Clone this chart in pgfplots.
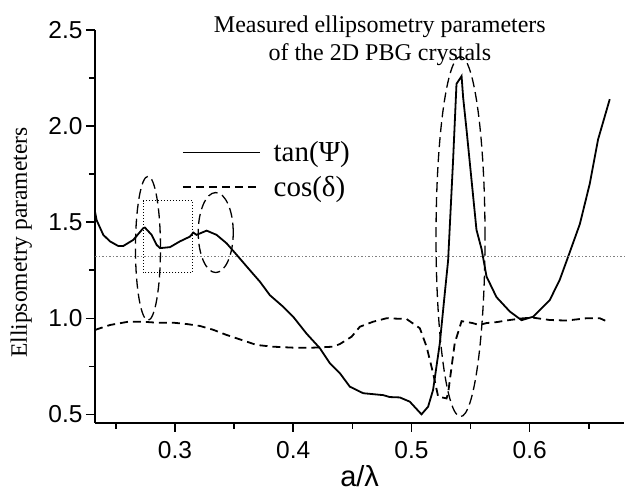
\documentclass[border=0pt]{standalone}
\usepackage{fontspec}
\setmainfont{Liberation Serif}
\newfontfamily\arial{Liberation Sans}
\usepackage{pgfplots}
\pgfplotsset{compat=1.18}
\usepackage{pgfplotstable}

\pgfplotstableread{
x y
0.2324 1.555
0.2338 1.51
0.2394 1.434
0.2451 1.40
0.2521 1.376
0.2563 1.376
0.2648 1.408
0.2732 1.469
0.2746 1.472
0.2803 1.434
0.2845 1.382
0.2873 1.365
0.2958 1.370
0.3042 1.400
0.3127 1.425
0.3155 1.446
0.3183 1.434
0.3268 1.456
0.3352 1.434
0.3437 1.390
0.3522 1.330
0.3606 1.270
0.3634 1.250
0.3719 1.190
0.3803 1.120
0.3915 1.060
0.4000 1.008
0.4113 0.920
0.4226 0.844
0.4310 0.766
0.4395 0.714
0.4479 0.644
0.4592 0.610
0.4761 0.600
0.4817 0.590
0.4902 0.588
0.4986 0.566
0.5085 0.500
0.5141 0.540
0.5183 0.627
0.5240 0.870
0.5282 1.130
0.5310 1.300
0.5352 1.820
0.5381 2.220
0.5424 2.260
0.5437 2.150
0.5466 1.980
0.5550 1.460
0.5593 1.360
0.5635 1.217
0.5719 1.110
0.5832 1.035
0.5931 0.990
0.6029 1.008
0.6170 1.095
0.6254 1.200
0.6325 1.320
0.6424 1.490
0.6508 1.700
0.6578 1.930
0.6677 2.140
}\tanpsi

\pgfplotstableread{
x y
0.2324 0.939
0.2366 0.948
0.2451 0.965
0.2606 0.982
0.2732 0.982
0.2845 0.977
0.2986 0.977
0.3099 0.970
0.3211 0.960
0.3324 0.940
0.3437 0.913
0.3550 0.890
0.3690 0.861
0.3831 0.852
0.4000 0.847
0.4169 0.847
0.4338 0.852
0.4395 0.866
0.4494 0.904
0.4564 0.956
0.4676 0.982
0.4790 1.000
0.4959 0.996
0.5071 0.948
0.5128 0.852
0.5183 0.714
0.5226 0.592
0.5297 0.583
0.5310 0.610
0.5366 0.870
0.5424 0.985
0.5517 0.975
0.5572 0.965
0.5635 0.975
0.5720 0.980
0.5832 0.991
0.5945 1.000
0.6029 1.003
0.6170 0.991
0.6311 0.988
0.6480 1.000
0.6593 1.000
0.6677 0.977
}\cosdelta

\begin{document}
\begin{tikzpicture}
\begin{axis}[
  at={(0,0)}, anchor=south west,
  scale only axis, width=529.3pt, height=393pt,
  xmin=0.2324, xmax=0.68, ymin=0.455, ymax=2.5,
  clip=false,
  axis x line*=bottom, axis y line*=left,
  axis line style={-, line width=1.8pt},
  every outer x axis line/.append style={-},
  every outer y axis line/.append style={-},
  xtick={0.3,0.4,0.5,0.6}, minor xtick={0.25,0.35,0.45,0.55,0.65},
  ytick={0.5,1.0,1.5,2.0,2.5}, minor ytick={0.75,1.25,1.75,2.25},
  xticklabels={0.3,0.4,0.5,0.6}, yticklabels={0.5,1.0,1.5,2.0,2.5},
  tick align=outside,
  major tick length=9pt, minor tick length=6pt,
  every tick/.style={black, line width=1.5pt},
  tick label style={font=\arial\fontsize{24.5}{24.5}\selectfont},
  xticklabel style={yshift=-6pt},
  /pgf/number format/assume math mode=true,
  xlabel={\arial a/λ},
  every axis x label/.style={at={(axis description cs:0.5,0)}, anchor=base, yshift=-63.7pt, font=\fontsize{29}{29}\selectfont},
  ylabel={Ellipsometry parameters},
  every axis y label/.style={at={(axis description cs:-0.1285,0.459)}, rotate=90, anchor=base, font=\fontsize{23.5}{23.5}\selectfont},
  legend style={draw=none, fill=none, at={(axis cs:0.3057,1.772)}, anchor=west,
    font=\fontsize{29}{29}\selectfont, inner sep=0pt, row sep=11pt, nodes={inner sep=1pt}},
  legend cell align=left,
  legend image code/.code={\draw[#1] (0pt,0pt) -- (77pt,0pt); \path (89pt,0pt);},
]
\addplot[black, line width=1.8pt] table[x=x,y=y] {\tanpsi};
\addlegendentry{tan(Ψ)}
\addplot[black, line width=1.8pt, dash pattern=on 8pt off 5pt] table[x=x,y=y] {\cosdelta};
\addlegendentry{cos(δ)}
\addplot[gray, line width=1pt, dash pattern=on 2pt off 2pt on 1pt off 2pt, forget plot] coordinates {(0.2324,1.32) (0.68,1.32)};
\draw[black, line width=1.3pt, dash pattern=on 10pt off 5pt] (axis cs:0.2772,1.364) ellipse [x radius=12.5pt, y radius=72pt];
\draw[black, line width=1.3pt, dash pattern=on 10pt off 5pt] (axis cs:0.3345,1.446) ellipse [x radius=17.5pt, y radius=40pt];
\draw[black, line width=1.3pt, dash pattern=on 10pt off 5pt] (axis cs:0.5415,1.425) ellipse [x radius=24.5pt, y radius=180pt];
\draw[black, line width=1pt, dotted] (axis cs:0.273,1.2375) rectangle (axis cs:0.315,1.6125);
\node[font=\fontsize{24}{28}\selectfont, align=center, anchor=north, inner sep=0pt] at (axis cs:0.4733,2.574) {Measured ellipsometry parameters\\of the 2D PBG crystals};
\end{axis}
\pgfresetboundingbox
\path[use as bounding box] (-95pt,-72pt) rectangle (540pt,423pt);
\end{tikzpicture}
\end{document}
